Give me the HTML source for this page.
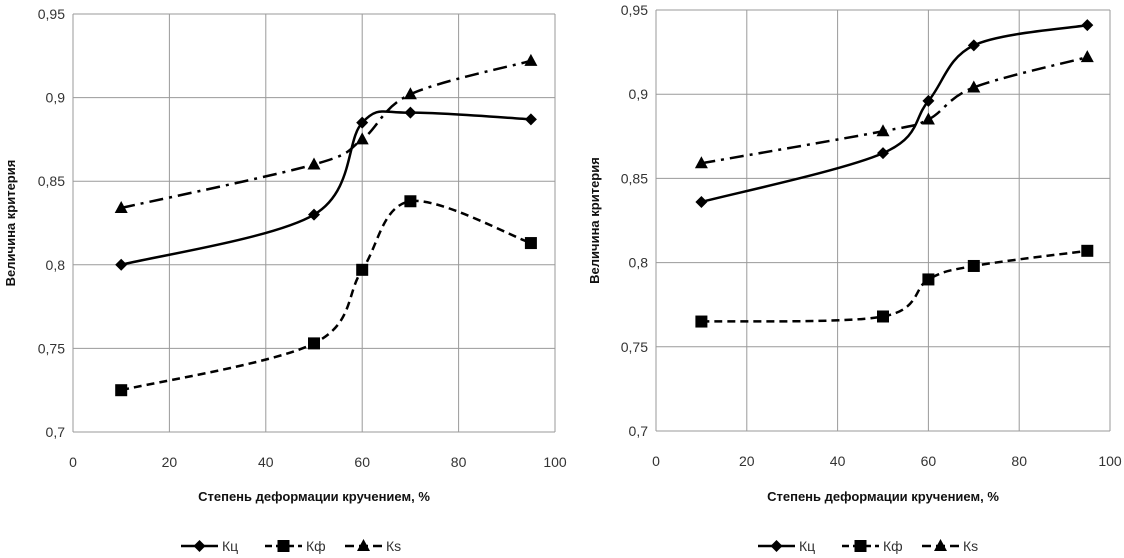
<!DOCTYPE html>
<html><head><meta charset="utf-8"><style>
html,body{margin:0;padding:0;background:#fff;width:1124px;height:558px;overflow:hidden}
svg{display:block;font-family:"Liberation Sans",sans-serif}
</style></head><body>
<svg id="svg" width="1124" height="558" viewBox="0 0 1124 558"></svg>
<script>
const xCats=[10,50,60,70,95];
const xTicks=[0,20,40,60,80,100];
const yTicks=[0.7,0.75,0.8,0.85,0.9,0.95];
const yTickLabels=["0,7","0,75","0,8","0,85","0,9","0,95"];
const seriesNames=["Кц","Кф","Кs"];
const leftKc=[0.800,0.830,0.885,0.891,0.887];
const leftKf=[0.725,0.753,0.797,0.838,0.813];
const leftKs=[0.834,0.860,0.875,0.902,0.922];
const rightKc=[0.836,0.865,0.896,0.929,0.941];
const rightKf=[0.765,0.768,0.790,0.798,0.807];
const rightKs=[0.859,0.878,0.885,0.904,0.922];

const NS="http://www.w3.org/2000/svg";
const svg=document.getElementById('svg');
function mk(tag,attrs,parent){const e=document.createElementNS(NS,tag);for(const k in attrs)e.setAttribute(k,attrs[k]);(parent||svg).appendChild(e);return e;}

function smooth(pts){
  let d="M"+pts[0][0]+","+pts[0][1];
  for(let i=0;i<pts.length-1;i++){
    const p0=pts[Math.max(0,i-1)],p1=pts[i],p2=pts[i+1],p3=pts[Math.min(pts.length-1,i+2)];
    const t=1/6;
    const c1=[p1[0]+(p2[0]-p0[0])*t,p1[1]+(p2[1]-p0[1])*t];
    const c2=[p2[0]-(p3[0]-p1[0])*t,p2[1]-(p3[1]-p1[1])*t];
    d+=" C"+c1+" "+c2+" "+p2;
  }
  return d;
}
const styles=[{dash:"none",marker:"diamond"},{dash:"8,5",marker:"square"},{dash:"14,6,3,6",marker:"triangle"}];
function marker(g,type,x,y){
  if(type==="diamond")return mk('path',{d:`M${x},${y-6}L${x+6},${y}L${x},${y+6}L${x-6},${y}Z`,fill:'#000'},g);
  if(type==="square")return mk('rect',{x:x-6,y:y-6,width:12,height:12,fill:'#000'},g);
  return mk('path',{d:`M${x},${y-7}L${x+6.5},${y+5}L${x-6.5},${y+5}Z`,fill:'#000'},g);
}
function chart(prefix,L,R,T,B,data,ytX,legendX){
  const g=mk('g',{});
  
  
  const sx=v=>L+(v-0)/(100-0)*(R-L);
  const sy=v=>B-(v-0.7)/(0.95-0.7)*(B-T);
  xTicks.forEach(t=>{
    const l=mk('line',{x1:sx(t),x2:sx(t),y1:T,y2:B,stroke:'#9a9a9a','stroke-width':1},g);
    
    
    const tx=mk('text',{x:sx(t),y:B+35,'text-anchor':'middle','font-size':14,fill:'#333'},g);
    tx.textContent=t;
    
    
  });
  yTicks.forEach((t,i)=>{
    const l=mk('line',{x1:L,x2:R,y1:sy(t),y2:sy(t),stroke:'#9a9a9a','stroke-width':1},g);
    
    
    const tx=mk('text',{x:L-8,y:sy(t)+5,'text-anchor':'end','font-size':14,fill:'#333'},g);
    tx.textContent=yTickLabels[i];
    
    
  });
  const yt=mk('text',{x:0,y:0,transform:`translate(${ytX},${(T+B)/2}) rotate(-90)`,'text-anchor':'middle','font-size':13,'font-weight':'bold',fill:'#111'},g);
  yt.textContent="Величина критерия";
  
  
  const xt=mk('text',{x:(L+R)/2,y:501,'text-anchor':'middle','font-size':13,'font-weight':'bold',fill:'#111'},g);
  xt.textContent="Степень деформации кручением, %";
  
  
  data.forEach((vals,si)=>{
    const pts=vals.map((v,i)=>[sx(xCats[i]),sy(v)]);
    const p=mk('path',{d:smooth(pts),fill:'none',stroke:'#000','stroke-width':2.5,'stroke-dasharray':styles[si].dash},g);
    
    
    pts.forEach(pt=>{
      const m=marker(g,styles[si].marker,pt[0],pt[1]);
      
      
    });
  });
  const offs=[0,84,164];
  seriesNames.forEach((n,si)=>{
    const x0=legendX+offs[si];
    const lg=mk('g',{},g);
    
    
    mk('line',{x1:x0,x2:x0+37,y1:546,y2:546,stroke:'#000','stroke-width':2.5,'stroke-dasharray':si===0?'none':(si===1?'7,4':'9,5')},lg);
    marker(lg,styles[si].marker,x0+18.5,546);
    const t=mk('text',{x:x0+41,y:551,'font-size':14,fill:'#333'},lg);
    t.textContent=n;
  });
}
chart('left',73,555,14,432,[leftKc,leftKf,leftKs],15,181);
chart('right',656,1110,10,431,[rightKc,rightKf,rightKs],599,758);
</script>
</body></html>
